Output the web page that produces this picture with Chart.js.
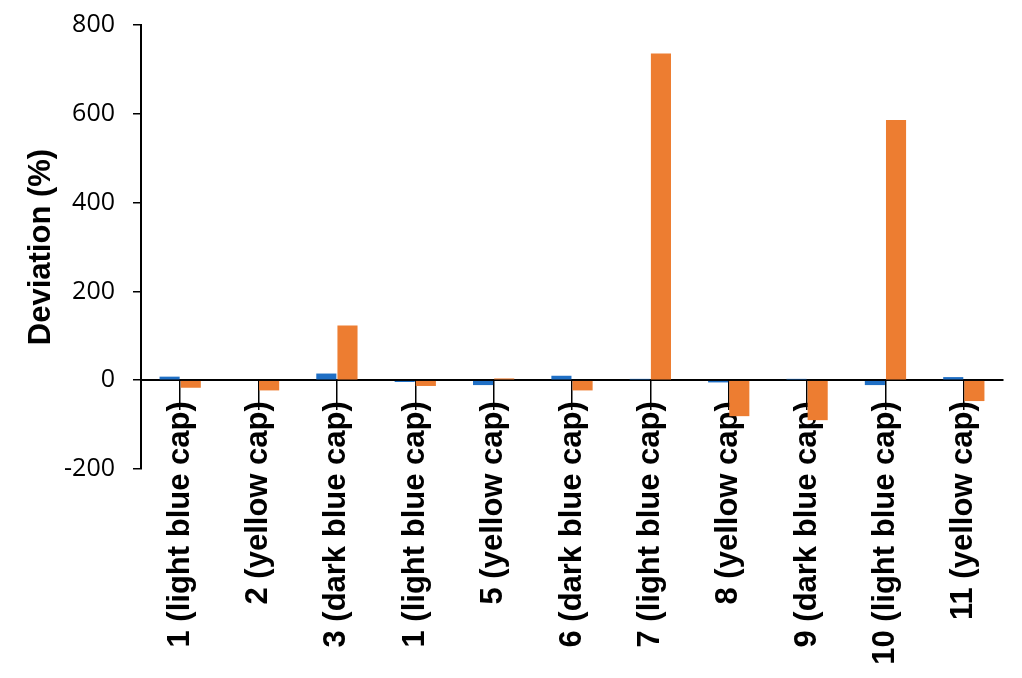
<!DOCTYPE html>
<html>
<head>
<meta charset="utf-8">
<script src="https://cdn.jsdelivr.net/npm/chart.js@4"></script>
<style>
  html, body { margin: 0; padding: 0; background: #fff; }
  #wrap { width: 1022px; height: 678px; }
</style>
</head>
<body>
<div id="wrap"><canvas id="chart" width="1022" height="678"></canvas></div>
<script>
// sample names along the x axis
const categories = [
  "1 (light blue cap)", "2 (yellow cap)", "3 (dark blue cap)", "1 (light blue cap)",
  "5 (yellow cap)", "6 (dark blue cap)", "7 (light blue cap)", "8 (yellow cap)",
  "9 (dark blue cap)", "10 (light blue cap)", "11 (yellow cap)"
];

// deviation in %
const blueValues = [8, 0, 15, -4, -11, 10, 3, -5, 3, -11, 7];
const orangeValues = [-17, -23, 123, -13, 4, -23, 736, -81, -90, 586, -47];

const yTicks = [-200, 0, 200, 400, 600, 800];

const ctx = document.getElementById("chart").getContext("2d");

new Chart(ctx, {
  type: "bar",
  data: {
    labels: categories,
    datasets: [
      {
        data: blueValues,
        backgroundColor: "#1F6FC5",
        barPercentage: 0.95,
        categoryPercentage: 0.54,
      },
      {
        data: orangeValues,
        backgroundColor: "#ED7D31",
        barPercentage: 0.95,
        categoryPercentage: 0.54,
      },
    ],
  },
  options: {
    responsive: false,
    animation: false,
    layout: { padding: { top: 25, bottom: 209, right: 19, left: 0 } },
    plugins: {
      legend: { display: false },
      tooltip: { enabled: false },
    },
    scales: {
      x: {
        position: { y: 0 },
        offset: true,
        grid: {
          offset: false,
          drawOnChartArea: false,
          drawTicks: true,
          tickLength: 29,
          color: "#000",
          lineWidth: 1.5,
        },
        border: { color: "#000", width: 2 },
        ticks: {
          autoSkip: false,
          minRotation: 90,
          maxRotation: 90,
          padding: -8,
          color: "#000",
          font: { family: "'Liberation Sans', Arial, sans-serif", size: 31, weight: "bold" },
        },
      },
      y: {
        min: -200,
        max: 800,
        afterBuildTicks: (scale) => {
          scale.ticks = yTicks.map(v => ({ value: v }));
        },
        afterFit: (scale) => {
          scale.width = 141;
          scale.paddingTop = 0;
          scale.paddingBottom = 0;
        },
        grid: {
          drawOnChartArea: false,
          drawTicks: true,
          tickLength: 8,
          color: "#000",
          lineWidth: 1.5,
        },
        border: { color: "#000", width: 2 },
        ticks: {
          padding: 18,
          color: "#000",
          font: { family: "'Open Sans', sans-serif", size: 25 },
        },
        title: {
          display: true,
          text: "Deviation (%)",
          color: "#000",
          padding: { top: 23, bottom: 0 },
          font: { family: "'Liberation Sans', Arial, sans-serif", size: 31, weight: "bold" },
        },
      },
    },
  },
});
</script>
</body>
</html>
